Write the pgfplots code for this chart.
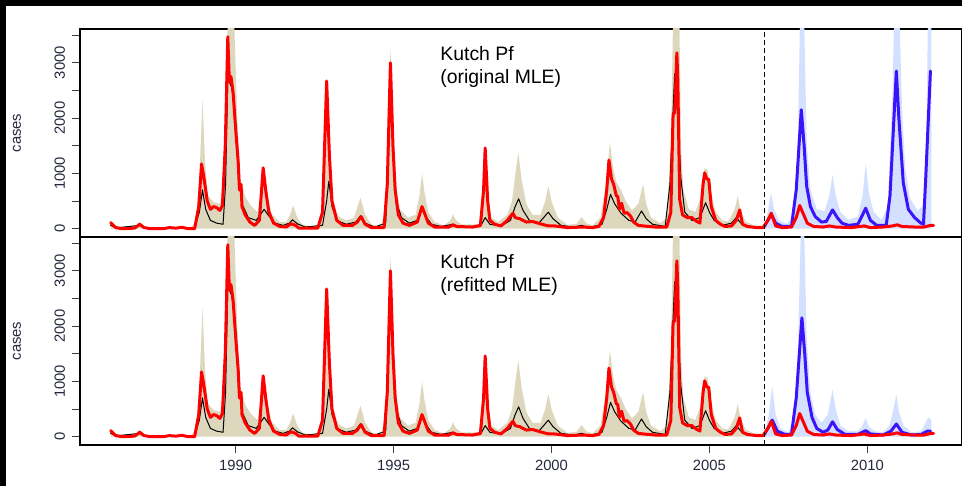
\documentclass[border=0pt]{standalone}
\usepackage{fontspec}
\setmainfont{Liberation Sans}
\usepackage{pgfplots}
\pgfplotsset{compat=1.18}
\usepackage{pgfplotstable}

\definecolor{beige}{RGB}{221,215,189}
\definecolor{fcband}{RGB}{212,224,255}
\definecolor{fcline}{RGB}{60,20,250}
\definecolor{lbl}{RGB}{35,40,60}

% observed cases (same in both panels)
\pgfplotstableread{
yr cases
1986.04 110
1986.2 20
1986.4 0
1986.8 10
1986.96 80
1987.1 20
1987.3 0
1987.7 0
1987.9 20
1988.1 10
1988.3 25
1988.5 0
1988.7 0
1988.83 400
1988.92 1170
1989.0 900
1989.1 500
1989.2 350
1989.3 400
1989.4 380
1989.5 330
1989.58 420
1989.67 1500
1989.75 3470
1989.8 2650
1989.85 2750
1989.92 2450
1990.0 1800
1990.08 1200
1990.12 700
1990.17 800
1990.2 400
1990.3 250
1990.45 120
1990.6 60
1990.75 150
1990.87 1100
1990.95 700
1991.05 300
1991.2 100
1991.4 40
1991.6 30
1991.75 90
1991.9 60
1992.0 10
1992.6 10
1992.75 300
1992.88 2670
1992.97 1300
1993.05 500
1993.2 150
1993.4 60
1993.7 60
1993.85 120
1993.97 220
1994.1 80
1994.3 20
1994.7 20
1994.8 800
1994.9 3000
1994.98 1500
1995.05 700
1995.15 250
1995.3 100
1995.5 60
1995.75 120
1995.9 400
1996.0 250
1996.1 100
1996.3 30
1996.75 30
1996.88 70
1997.0 40
1997.5 30
1997.75 60
1997.85 700
1997.9 1460
1997.98 500
1998.05 150
1998.2 80
1998.4 50
1998.6 150
1998.78 280
1998.85 200
1999.0 180
1999.2 120
1999.4 130
1999.7 80
1999.9 50
2000.1 50
2000.5 20
2001.0 30
2001.3 20
2001.5 40
2001.65 200
2001.75 700
2001.82 1240
2001.9 900
2001.97 800
2002.05 600
2002.1 580
2002.15 350
2002.22 460
2002.3 280
2002.4 290
2002.5 230
2002.6 120
2002.75 60
2002.9 50
2003.3 30
2003.65 30
2003.78 300
2003.85 2060
2003.9 2100
2003.97 3180
2004.0 2700
2004.06 530
2004.15 250
2004.3 200
2004.45 200
2004.55 150
2004.7 100
2004.8 800
2004.85 1010
2004.92 900
2004.98 890
2005.06 400
2005.2 150
2005.35 80
2005.5 40
2005.7 50
2005.85 150
2005.96 340
2006.05 80
2006.2 40
2006.5 20
2006.7 20
2006.85 150
2006.96 280
2007.1 50
2007.3 20
2007.6 30
2007.75 200
2007.86 420
2007.95 300
2008.1 100
2008.3 40
2008.6 30
2008.8 50
2009.0 30
2009.5 20
2009.9 50
2010.1 20
2010.5 30
2010.8 50
2010.95 70
2011.1 40
2011.5 30
2011.8 30
2012.0 60
2012.1 60
}\obs

% simulation envelope (upper quantile) up to the forecast start
\pgfplotstableread{
yr hi
1986.04 160
1986.15 60
1986.4 20
1986.85 40
1986.96 130
1987.1 40
1987.3 20
1988.6 30
1988.75 150
1988.85 900
1988.95 2330
1989.03 1200
1989.12 600
1989.3 480
1989.5 450
1989.62 700
1989.7 2500
1989.75 3800
1989.95 3800
1990.05 2000
1990.15 900
1990.3 580
1990.5 400
1990.7 300
1990.8 600
1990.9 1100
1991.0 600
1991.15 250
1991.4 120
1991.6 120
1991.72 250
1991.82 420
1991.95 200
1992.1 80
1992.4 40
1992.7 80
1992.8 1200
1992.88 2720
1992.97 1400
1993.08 500
1993.25 220
1993.5 150
1993.75 200
1993.95 560
1994.1 250
1994.3 80
1994.6 40
1994.75 400
1994.83 1800
1994.9 3260
1994.98 2000
1995.08 800
1995.2 350
1995.45 200
1995.7 250
1995.82 600
1995.9 1000
1995.98 650
1996.1 300
1996.3 120
1996.6 60
1996.8 150
1996.88 260
1996.98 150
1997.15 80
1997.7 80
1997.82 500
1997.9 1480
1997.98 600
1998.1 200
1998.3 120
1998.6 250
1998.75 500
1998.88 1100
1998.95 1390
1999.05 900
1999.2 450
1999.4 250
1999.65 250
1999.8 500
1999.9 770
2000.0 500
2000.2 200
2000.5 70
2000.8 90
2000.95 210
2001.1 100
2001.3 60
2001.55 200
2001.72 800
2001.85 1560
2001.95 1100
2002.05 850
2002.2 700
2002.35 500
2002.55 330
2002.75 450
2002.9 800
2003.0 450
2003.15 200
2003.45 100
2003.65 200
2003.78 1500
2003.85 3800
2004.05 3800
2004.1 1500
2004.18 700
2004.35 350
2004.55 300
2004.72 550
2004.85 1100
2004.95 1050
2005.05 650
2005.2 300
2005.4 150
2005.6 130
2005.8 350
2005.9 590
2006.0 300
2006.15 130
2006.4 60
2006.74 50
}\band

% simulation median
\pgfplotstableread{
yr med
1986.04 60
1986.2 15
1986.96 60
1987.15 15
1988.7 20
1988.85 300
1988.95 700
1989.05 350
1989.2 150
1989.4 100
1989.6 80
1989.68 800
1989.75 2700
1989.88 2550
1990.0 1900
1990.1 900
1990.2 450
1990.4 200
1990.65 150
1990.9 350
1991.05 230
1991.25 100
1991.5 60
1991.7 100
1991.8 160
1991.95 90
1992.2 30
1992.75 60
1992.88 500
1992.95 860
1993.05 400
1993.2 150
1993.5 80
1993.8 120
1993.95 230
1994.1 100
1994.4 30
1994.75 100
1994.85 1500
1994.9 2900
1994.98 1500
1995.08 500
1995.25 200
1995.5 100
1995.75 150
1995.9 400
1996.02 220
1996.2 80
1996.5 40
1996.88 80
1997.1 30
1997.75 40
1997.9 200
1998.05 80
1998.4 50
1998.7 150
1998.85 400
1998.96 540
1999.1 330
1999.3 150
1999.6 100
1999.9 300
2000.05 180
2000.3 60
2000.7 30
2000.95 60
2001.2 20
2001.6 80
2001.75 350
2001.87 620
2002.0 450
2002.2 280
2002.45 150
2002.65 120
2002.85 320
2003.0 180
2003.2 80
2003.6 40
2003.75 800
2003.9 2800
2004.0 2000
2004.1 900
2004.22 300
2004.45 150
2004.7 200
2004.88 470
2005.0 300
2005.15 150
2005.4 60
2005.7 100
2005.85 200
2006.0 100
2006.3 30
2006.74 20
}\med

% forecast, original MLE
\pgfplotstableread{
yr fc
2006.74 40
2006.85 150
2006.96 260
2007.1 100
2007.3 40
2007.6 40
2007.75 700
2007.91 2150
2008.0 1500
2008.08 770
2008.2 400
2008.35 220
2008.55 120
2008.7 130
2008.9 340
2009.05 200
2009.2 100
2009.4 60
2009.7 80
2009.85 250
2009.95 370
2010.1 150
2010.3 60
2010.6 60
2010.72 600
2010.92 2850
2011.0 2000
2011.14 830
2011.3 350
2011.5 200
2011.7 100
2011.78 80
2011.85 900
2012.0 2850
}\fcA

\pgfplotstableread{
yr hi
2006.74 50
2006.85 300
2006.95 650
2007.05 350
2007.2 150
2007.45 90
2007.7 250
2007.8 1500
2007.87 3800
2008.0 3800
2008.08 1600
2008.2 700
2008.4 350
2008.65 320
2008.8 600
2008.9 980
2009.0 600
2009.15 300
2009.4 160
2009.7 220
2009.85 600
2009.95 1180
2010.05 650
2010.2 300
2010.45 160
2010.65 400
2010.8 2500
2010.85 3800
2011.02 3800
2011.1 2200
2011.2 1100
2011.35 550
2011.6 320
2011.8 450
2011.88 2000
2011.92 3800
2012.03 3800
}\fcbandA

% forecast, refitted MLE
\pgfplotstableread{
yr fc
2006.74 40
2006.85 150
2006.99 300
2007.15 100
2007.4 40
2007.6 40
2007.75 700
2007.93 2150
2008.02 1500
2008.1 800
2008.25 350
2008.4 150
2008.6 80
2008.75 120
2008.9 270
2009.05 130
2009.3 40
2009.7 40
2009.95 110
2010.1 50
2010.5 30
2010.75 100
2010.92 230
2011.1 80
2011.4 30
2011.7 40
2011.9 100
2012.0 100
}\fcB

\pgfplotstableread{
yr hi
2006.74 50
2006.88 400
2006.99 910
2007.1 400
2007.25 150
2007.5 80
2007.72 400
2007.8 1500
2007.9 3800
2008.0 3800
2008.08 1800
2008.2 800
2008.35 400
2008.55 250
2008.75 400
2008.9 850
2009.0 500
2009.15 200
2009.4 100
2009.7 100
2009.85 200
2009.95 340
2010.05 180
2010.25 100
2010.5 80
2010.7 200
2010.83 500
2010.92 760
2011.0 450
2011.15 200
2011.4 80
2011.7 100
2011.85 250
2011.93 350
2012.03 300
}\fcbandB

\newcommand{\lblfont}{\fontsize{7.4}{8.5}\selectfont}

\pgfplotsset{kutch/.style={
  scale only axis, width=441pt, height=104pt,
  xmin=1985.07, xmax=2013.0, ymin=-150, ymax=3610,
  axis line style={line width=1.2pt},
  tick align=outside, major tick length=4pt,
  tick style={line width=0.5pt, black!75},
  ytick={0,500,...,3500}, yticklabels={0,,1000,,2000,,3000,},
  ytick pos=left, xtick pos=bottom,
  yticklabel style={rotate=90, anchor=south, font=\lblfont, text=lbl},
  xticklabel style={font=\lblfont, text=lbl},
  ylabel={cases},
  ylabel style={at={(axis description cs:-0.0714,0.5)}, anchor=center, font=\lblfont, text=lbl},
  every axis plot/.append style={line join=round, line cap=round},
}}

\begin{document}
\begin{tikzpicture}
\useasboundingbox (0,0) rectangle (481pt,243pt);
\fill[black] (0,240pt) rectangle (481pt,243pt);
\fill[black] (0,0) rectangle (3pt,243pt);

% top panel
\begin{axis}[kutch, at={(40pt,124.5pt)}, anchor=south west, xtick=\empty]
\addplot[draw=none, fill=beige] table[x=yr, y=hi] {\band} \closedcycle;
\addplot[draw=none, fill=fcband] table[x=yr, y=hi] {\fcbandA} \closedcycle;
\addplot[black, line width=0.5pt] table[x=yr, y=med] {\med};
\addplot[fcline, line width=1.5pt] table[x=yr, y=fc] {\fcA};
\addplot[red, line width=1.5pt] table[x=yr, y=cases] {\obs};
\draw[black, line width=0.6pt, dash pattern=on 2.5pt off 1.5pt] (axis cs:2006.74,-150) -- (axis cs:2006.74,3610);
\node[anchor=north west, align=left, inner sep=0pt, font=\fontsize{9.7}{11.5}\selectfont]
  at (axis cs:1996.47,3300) {Kutch Pf\\(original MLE)};
\end{axis}

% bottom panel
\begin{axis}[kutch, at={(40pt,20.5pt)}, anchor=south west,
  xtick={1990,1995,2000,2005,2010}, xticklabels={1990,1995,2000,2005,2010}]
\addplot[draw=none, fill=beige] table[x=yr, y=hi] {\band} \closedcycle;
\addplot[draw=none, fill=fcband] table[x=yr, y=hi] {\fcbandB} \closedcycle;
\addplot[black, line width=0.5pt] table[x=yr, y=med] {\med};
\addplot[fcline, line width=1.5pt] table[x=yr, y=fc] {\fcB};
\addplot[red, line width=1.5pt] table[x=yr, y=cases] {\obs};
\draw[black, line width=0.6pt, dash pattern=on 2.5pt off 1.5pt] (axis cs:2006.74,-150) -- (axis cs:2006.74,3610);
\node[anchor=north west, align=left, inner sep=0pt, font=\fontsize{9.7}{11.5}\selectfont]
  at (axis cs:1996.47,3300) {Kutch Pf\\(refitted MLE)};
\end{axis}
\end{tikzpicture}
\end{document}
